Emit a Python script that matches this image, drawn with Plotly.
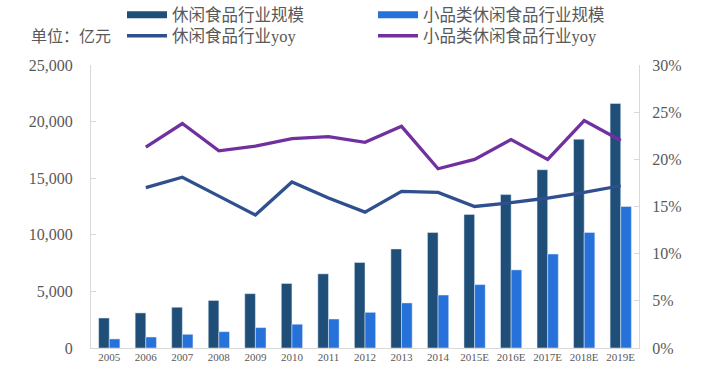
import plotly.graph_objects as go

categories = ["2005", "2006", "2007", "2008", "2009", "2010", "2011", "2012",
              "2013", "2014", "2015E", "2016E", "2017E", "2018E", "2019E"]
snack_size = [2650, 3100, 3600, 4200, 4800, 5700, 6550, 7550,
              8750, 10200, 11800, 13550, 15750, 18450, 21600]
small_snack_size = [800, 970, 1210, 1440, 1800, 2100, 2560, 3150,
                    3980, 4680, 5600, 6900, 8300, 10200, 12500]
snack_yoy = [None, 0.170, 0.181, 0.161, 0.141, 0.176, 0.159, 0.144,
             0.166, 0.165, 0.150, 0.154, 0.159, 0.165, 0.172]
small_snack_yoy = [None, 0.213, 0.238, 0.209, 0.214, 0.222, 0.224, 0.218,
                   0.235, 0.190, 0.200, 0.221, 0.200, 0.241, 0.220]

names = ["休闲食品行业规模", "小品类休闲食品行业规模", "休闲食品行业yoy", "小品类休闲食品行业yoy"]
c_dark = "#1F4E79"
c_light = "#2672DA"
c_blue = "#2F4F8F"
c_purple = "#7030A0"
font_fam = "Liberation Serif, Noto Sans CJK SC, serif"
grey = "#595959"
axis_grey = "#D9D9D9"

fig = go.Figure()
fig.add_trace(go.Bar(x=categories, y=snack_size, name=names[0], marker_color=c_dark,
                     legendgroup="a", showlegend=False))
fig.add_trace(go.Bar(x=categories, y=small_snack_size, name=names[1], marker_color=c_light,
                     legendgroup="b", showlegend=False))
fig.add_trace(go.Scatter(x=categories, y=snack_yoy, name=names[2], mode="lines",
                         line=dict(color=c_blue, width=3.3), yaxis="y2", legend="legend2"))
fig.add_trace(go.Scatter(x=categories, y=small_snack_yoy, name=names[3], mode="lines",
                         line=dict(color=c_purple, width=3.3), yaxis="y2", legend="legend2"))
# legend entries for the bars (wide swatches like the original)
fig.add_trace(go.Scatter(x=[None], y=[None], name=names[0], mode="lines",
                         line=dict(color=c_dark, width=7), legendgroup="a", legend="legend"))
fig.add_trace(go.Scatter(x=[None], y=[None], name=names[1], mode="lines",
                         line=dict(color=c_light, width=7), legendgroup="b", legend="legend"))

leg_common = dict(orientation="h", xref="container", yref="container",
                  xanchor="left", yanchor="middle", font=dict(family=font_fam, size=16.5, color=grey),
                  bgcolor="rgba(0,0,0,0)", itemwidth=40, entrywidth=196, entrywidthmode="pixels",
                  tracegroupgap=0)

fig.update_layout(
    width=707, height=380,
    margin=dict(l=91, r=68, t=65, b=32, autoexpand=False),
    paper_bgcolor="white", plot_bgcolor="white",
    barmode="group", bargap=0.418, bargroupgap=0,
    font=dict(family=font_fam, color=grey),
    legend=dict(x=122 / 707, y=1 - 15 / 380, **leg_common),
    legend2=dict(x=122 / 707, y=1 - 36 / 380, **leg_common),
    xaxis=dict(type="category", showline=True, linecolor=axis_grey, linewidth=1,
               ticks="", tickfont=dict(family=font_fam, size=11, color=grey),
               showgrid=False, ticklabelstandoff=-1),
    yaxis=dict(range=[0, 25000], dtick=5000, tickformat=",", showgrid=False,
               showline=True, linecolor=axis_grey, ticks="inside", ticklen=5, tickcolor=axis_grey,
               tickfont=dict(family=font_fam, size=16, color=grey), zeroline=False,
               ticklabelstandoff=14),
    yaxis2=dict(range=[0, 0.30], dtick=0.05, tickformat=".0%", overlaying="y", side="right",
                showgrid=False, showline=True, linecolor=axis_grey, ticks="inside", ticklen=5,
                tickcolor=axis_grey, tickfont=dict(family=font_fam, size=16, color=grey),
                zeroline=False, ticklabelstandoff=9),
    annotations=[dict(text="单位：亿元", xref="paper", yref="paper", x=-0.113, y=(348 - 37) / 283,
                      xanchor="left", yanchor="middle", showarrow=False,
                      font=dict(family=font_fam, size=16, color=grey))],
)

fig.write_html("out.html", config={"displayModeBar": False},
               post_script="document.body.style.margin='0';")
